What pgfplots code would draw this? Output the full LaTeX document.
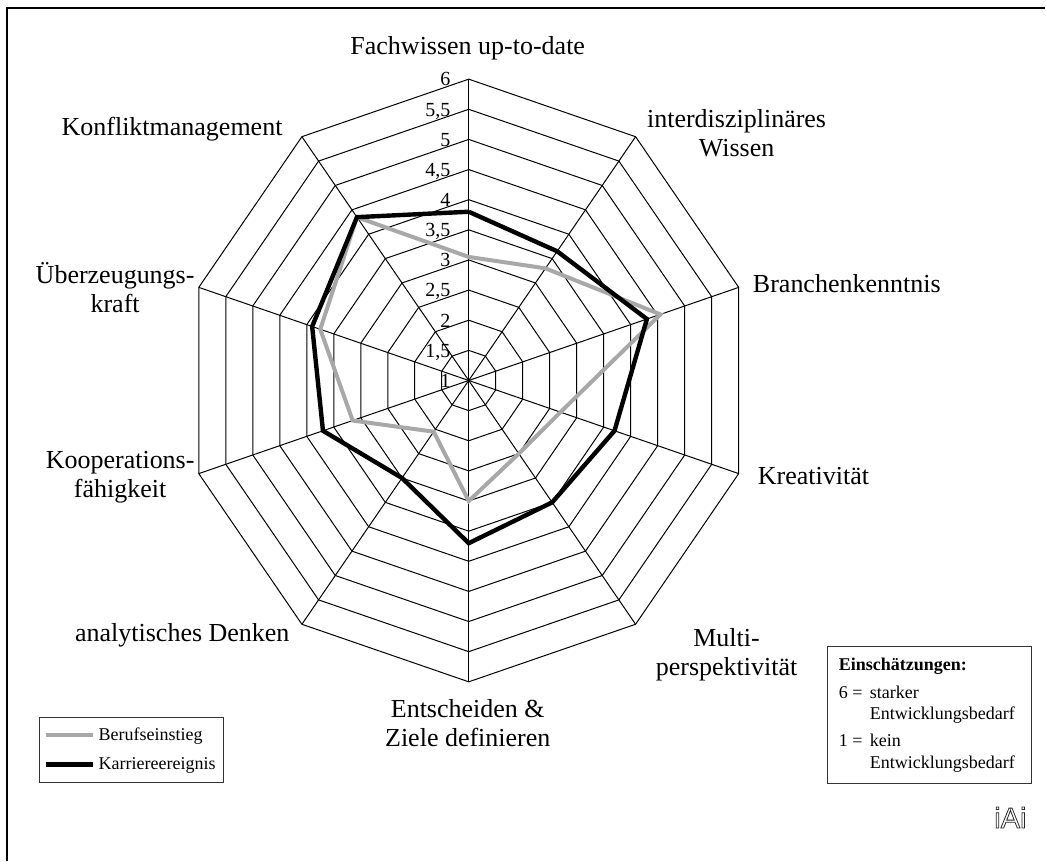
\documentclass[border=0pt]{standalone}
\usepackage{fontspec}
\setmainfont{Liberation Serif}
\setsansfont{Liberation Sans}
\usepackage{pgfplots}
\usepackage{pgfplotstable}
\pgfplotsset{compat=1.18}

\definecolor{beruf}{RGB}{168,168,168}

% angle (deg, clockwise from top), Berufseinstieg, Karriereereignis
\pgfplotstableread{
a    beruf  karriere
0    3.05   3.80
36   3.30   3.65
72   4.55   4.30
108  2.70   3.70
144  2.50   3.50
180  3.00   3.70
216  2.05   3.00
252  3.15   3.70
288  3.75   3.90
324  4.35   4.35
360  3.05   3.80
}\profil

% centre and scale of the net in picture pixels
\newcommand{\cx}{469}
\newcommand{\cy}{380.7}
\newcommand{\ux}{56.8}
\newcommand{\uy}{60.3}

\begin{document}
\begin{tikzpicture}
\begin{axis}[
    width=523pt, height=430.5pt, scale only axis,
    xmin=0, xmax=1046, ymin=0, ymax=861, y dir=reverse,
    hide axis, clip=false,
    legend style={at={(0.03728,0.16725)}, anchor=north west,
        draw=black!80, font=\fontsize{9}{11}\selectfont,
        inner xsep=2pt, inner ysep=3.25pt, row sep=3pt, column sep=0pt,
        cells={anchor=west}},
    legend image code/.code={
        \path (0pt,0pt) -- (23.5pt,0pt);
        \draw[#1] (5pt,0pt) -- (19pt,0pt);},
]
    % whole picture area, so the page keeps the reference's size
    \path (axis cs:0,0) rectangle (axis cs:1046,861);

    % rings 1,5 ... 6
    \pgfplotsinvokeforeach{1.5,2,2.5,3,3.5,4,4.5,5,5.5,6}{
        \addplot[black, line width=0.5pt, forget plot] table[
            x expr={\cx+\ux*(#1-1)*sin(\thisrow{a})},
            y expr={\cy-\uy*(#1-1)*cos(\thisrow{a})}] {\profil};
    }
    % spokes
    \pgfplotsinvokeforeach{0,36,72,108,144,180,216,252,288,324}{
        \draw[black, line width=0.5pt] (axis cs:\cx,\cy) --
            (axis cs:{\cx+\ux*5*sin(#1)},{\cy-\uy*5*cos(#1)});
    }

    \addplot[beruf, line width=2pt] table[
        x expr={\cx+\ux*(\thisrow{beruf}-1)*sin(\thisrow{a})},
        y expr={\cy-\uy*(\thisrow{beruf}-1)*cos(\thisrow{a})}] {\profil};
    \addlegendentry{Berufseinstieg}
    \addplot[black, line width=2.2pt] table[
        x expr={\cx+\ux*(\thisrow{karriere}-1)*sin(\thisrow{a})},
        y expr={\cy-\uy*(\thisrow{karriere}-1)*cos(\thisrow{a})}] {\profil};
    \addlegendentry{Karriereereignis}

    % scale labels on the top spoke
    \begin{scope}[every node/.style={anchor=base east, inner sep=0pt,
            yshift=-3.4pt, font=\fontsize{10}{12}\selectfont}]
        \node at (axis cs:451,380.7) {1};
        \node at (axis cs:451,350.6) {1,5};
        \node at (axis cs:451,320.4) {2};
        \node at (axis cs:451,290.3) {2,5};
        \node at (axis cs:451,260.1) {3};
        \node at (axis cs:451,230.0) {3,5};
        \node at (axis cs:451,199.8) {4};
        \node at (axis cs:451,169.7) {4,5};
        \node at (axis cs:451,139.5) {5};
        \node at (axis cs:451,109.4) {5,5};
        \node at (axis cs:451,79.2) {6};
    \end{scope}

    % category labels
    \begin{scope}[every node/.style={align=center, inner sep=0pt,
            font=\fontsize{13}{14.5}\selectfont}]
        \node at (axis cs:468,48) {Fachwissen up-to-date};
        \node at (axis cs:737,133) {interdisziplinäres\\Wissen};
        \node[anchor=west] at (axis cs:753,284) {Branchenkenntnis};
        \node[anchor=west] at (axis cs:758,476) {Kreativität};
        \node at (axis cs:727,655) {Multi-\\perspektivität};
        \node at (axis cs:468,724) {Entscheiden \&\\Ziele definieren};
        \node[anchor=east] at (axis cs:290,636) {analytisches Denken};
        \node[anchor=east] at (axis cs:195,477) {Kooperations-\\fähigkeit};
        \node[anchor=east] at (axis cs:195,288) {Überzeugungs-\\kraft};
        \node[anchor=east] at (axis cs:283,129) {Konfliktmanagement};
    \end{scope}

    % note box
    \draw[black!80, line width=0.5pt] (axis cs:828,647) rectangle (axis cs:1032,784);
    \begin{scope}[every node/.style={anchor=base west, inner sep=0pt,
            font=\fontsize{9}{11}\selectfont}]
        \node at (axis cs:839,671) {\textbf{Einschätzungen:}};
        \node at (axis cs:839,699) {6 =};
        \node at (axis cs:870,699) {starker};
        \node at (axis cs:870,720) {Entwicklungsbedarf};
        \node at (axis cs:839,746.5) {1 =};
        \node at (axis cs:870,746.5) {kein};
        \node at (axis cs:870,769) {Entwicklungsbedarf};
    \end{scope}

    % logo
    \node[font=\sffamily\fontsize{14.5}{14.5}\selectfont, text=black!85, inner sep=0pt]
        at (axis cs:1011,818) {\special{pdf:literal direct 1 Tr 0.4 w}iAi\special{pdf:literal direct 0 Tr}};

    % frame (left and top edges)
    \draw[black, line width=0.6pt] (axis cs:7,861) -- (axis cs:7,8) -- (axis cs:1046,8);
\end{axis}
\end{tikzpicture}
\end{document}
